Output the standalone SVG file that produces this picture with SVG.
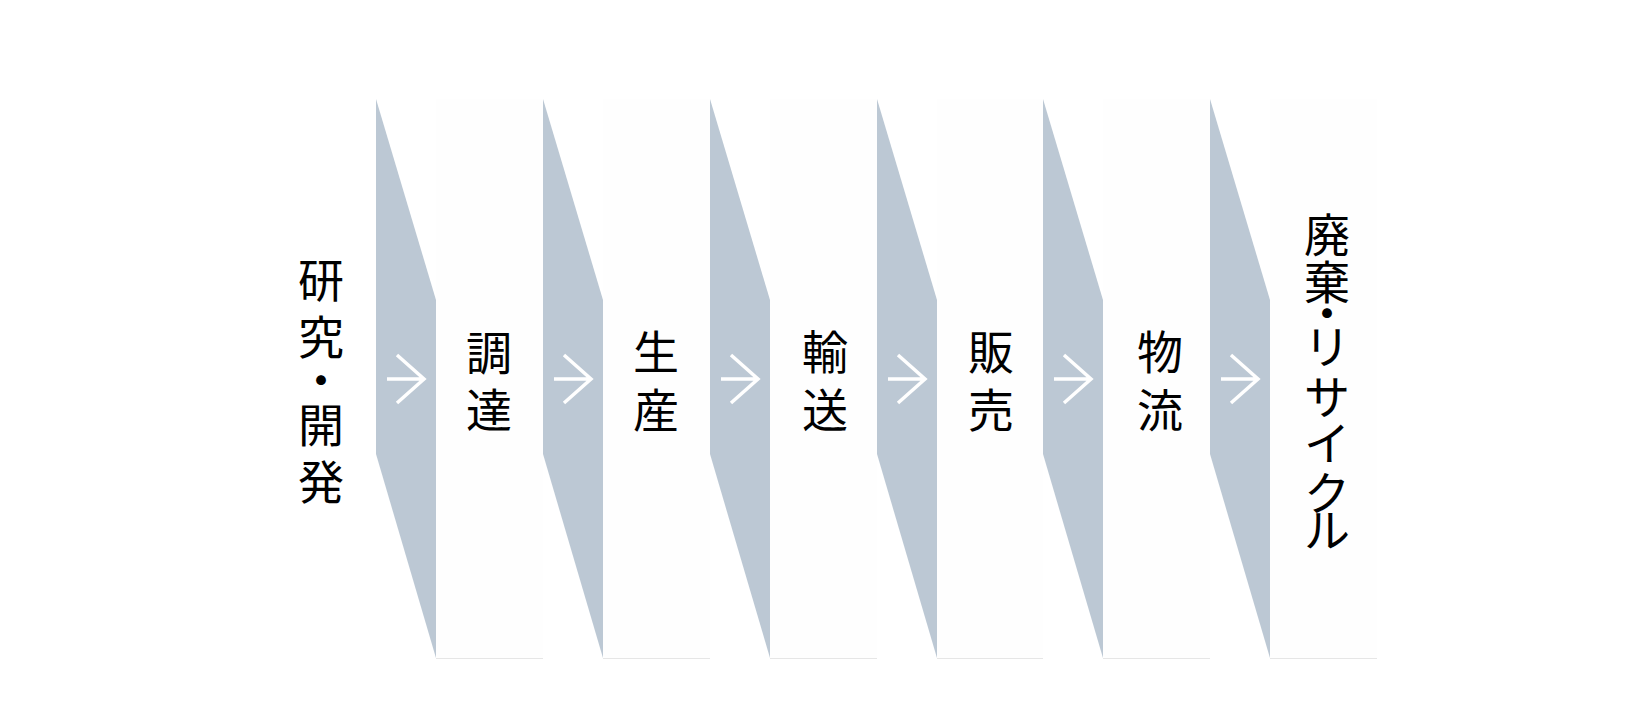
<svg xmlns="http://www.w3.org/2000/svg" width="1644" height="711" viewBox="0 0 1644 711">
<style>
.bg{fill:#ffffff}
.panel{fill:#fefefe}
.edge{stroke:#e6e6e6;stroke-width:1.2;fill:none}
.band{fill:#bcc8d4}
.arr{stroke:#ffffff;stroke-width:3.5;fill:none;stroke-linecap:butt;stroke-linejoin:miter}
.lbl{font-family:"Noto Sans CJK JP","Noto Sans",sans-serif;font-size:46px;fill:#000000;text-anchor:middle}
</style>
<rect class="bg" x="0" y="0" width="1644" height="711"/>
<g id="node-research">
<text class="lbl"><tspan x="321" y="297">研</tspan><tspan x="321" y="354">究</tspan><tspan x="321" y="397">・</tspan><tspan x="321" y="442">開</tspan><tspan x="321" y="499">発</tspan></text>
</g>
<g id="node-procurement">
<rect class="panel" x="436" y="99" width="107" height="559"/>
<line class="edge" x1="436" y1="658.5" x2="543" y2="658.5"/>
<text class="lbl"><tspan x="489" y="370">調</tspan><tspan x="489" y="427">達</tspan></text>
</g>
<g id="node-production">
<rect class="panel" x="603" y="99" width="107" height="559"/>
<line class="edge" x1="603" y1="658.5" x2="710" y2="658.5"/>
<text class="lbl"><tspan x="656" y="369">生</tspan><tspan x="656" y="427">産</tspan></text>
</g>
<g id="node-transport">
<rect class="panel" x="770" y="99" width="107" height="559"/>
<line class="edge" x1="770" y1="658.5" x2="877" y2="658.5"/>
<text class="lbl"><tspan x="825" y="369">輸</tspan><tspan x="825" y="427">送</tspan></text>
</g>
<g id="node-sales">
<rect class="panel" x="937" y="99" width="106" height="559"/>
<line class="edge" x1="937" y1="658.5" x2="1043" y2="658.5"/>
<text class="lbl"><tspan x="991" y="369">販</tspan><tspan x="991" y="427">売</tspan></text>
</g>
<g id="node-logistics">
<rect class="panel" x="1103" y="99" width="107" height="559"/>
<line class="edge" x1="1103" y1="658.5" x2="1210" y2="658.5"/>
<text class="lbl"><tspan x="1160" y="369">物</tspan><tspan x="1160" y="427">流</tspan></text>
</g>
<g id="node-recycle">
<rect class="panel" x="1270" y="99" width="107" height="559"/>
<line class="edge" x1="1270" y1="658.5" x2="1377" y2="658.5"/>
<text class="lbl"><tspan x="1327" y="252">廃</tspan><tspan x="1327" y="299">棄</tspan><tspan x="1327" y="330">・</tspan><tspan x="1327" y="364">リ</tspan><tspan x="1327" y="414">サ</tspan><tspan x="1327" y="460">イ</tspan><tspan x="1327" y="510">ク</tspan><tspan x="1327" y="547">ル</tspan></text>
</g>
<g id="connectors">
<polygon class="band" points="376,99 436,300 436,658 376,454"/>
<polygon class="band" points="543,99 603,300 603,658 543,454"/>
<polygon class="band" points="710,99 770,300 770,658 710,454"/>
<polygon class="band" points="877,99 937,300 937,658 877,454"/>
<polygon class="band" points="1043,99 1103,300 1103,658 1043,454"/>
<polygon class="band" points="1210,99 1270,300 1270,658 1210,454"/>
<path class="arr" d="M387,379 H424 M397,355 L424,379 L397,403"/>
<path class="arr" d="M554,379 H591 M564,355 L591,379 L564,403"/>
<path class="arr" d="M721,379 H758 M731,355 L758,379 L731,403"/>
<path class="arr" d="M888,379 H925 M898,355 L925,379 L898,403"/>
<path class="arr" d="M1054,379 H1091 M1064,355 L1091,379 L1064,403"/>
<path class="arr" d="M1221,379 H1258 M1231,355 L1258,379 L1231,403"/>
</g>
</svg>
